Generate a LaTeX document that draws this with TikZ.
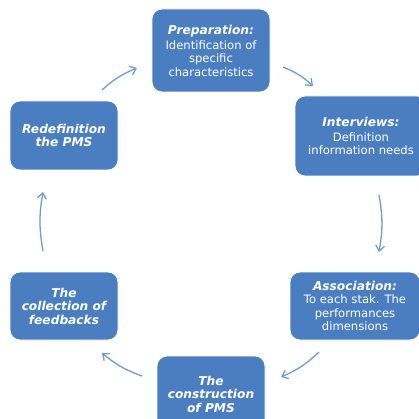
\documentclass[tikz,border=0pt]{standalone}
\usepackage{fontspec}
\setmainfont{DejaVu Sans}
\usetikzlibrary{arrows.meta}
\definecolor{boxblue}{HTML}{4A7EC1}
\definecolor{arrowblue}{HTML}{6A9BDB}
\tikzset{
  stagebox/.style={fill=boxblue, draw=white, line width=0.8pt, rounded corners=10pt,
    text=white, align=center, font=\fontsize{11.6}{13.5}\selectfont, inner sep=0pt},
  cyclearrow/.style={draw=arrowblue, line width=1.3pt,
    -{Straight Barb[length=5.5pt,width=9pt]}, bend left=10}
}
\newcommand{\stagetitle}[1]{{\fontsize{12.2}{14}\selectfont\bfseries\itshape #1}}
\begin{document}
\begin{tikzpicture}[x=1pt,y=-1pt]
  \useasboundingbox (0,0) rectangle (419,419);
  \clip (0,0) rectangle (419,419);
  % stage boxes
  \node[stagebox, minimum width=118pt, minimum height=83pt] (prep) at (211,50.5)
    {\stagetitle{Preparation:}\\[1.5pt]Identification of\\specific\\characteristics};
  \node[stagebox, minimum width=132pt, minimum height=80pt] (inter) at (361,136)
    {\stagetitle{Interviews:}\\[1.5pt]Definition\\information needs};
  \node[stagebox, minimum width=130pt, minimum height=68pt] (assoc) at (355,306)
    {\stagetitle{Association:}\\To each stak. The\\performances\\dimensions};
  \node[stagebox, minimum width=108pt, minimum height=76pt] (constr) at (211,394)
    {\stagetitle{The}\\\stagetitle{construction}\\\stagetitle{of PMS}};
  \node[stagebox, minimum width=108pt, minimum height=68pt] (coll) at (64,306)
    {\stagetitle{The}\\\stagetitle{collection of}\\\stagetitle{feedbacks}};
  \node[stagebox, minimum width=108pt, minimum height=69pt] (redef) at (64,135.5)
    {\stagetitle{Redefinition}\\\stagetitle{the PMS}};
  % arrow end points
  \coordinate (a1s) at (283,67);  \coordinate (a1e) at (313,86);
  \coordinate (a2s) at (379,195); \coordinate (a2e) at (379,252);
  \coordinate (a3s) at (319,352); \coordinate (a3e) at (281,377);
  \coordinate (a4s) at (142,376); \coordinate (a4e) at (102,353);
  \coordinate (a5s) at (43,251);  \coordinate (a5e) at (43,192);
  \coordinate (a6s) at (102,90);  \coordinate (a6e) at (137,68);
  % cycle arrows
  \draw[cyclearrow] (a1s) to (a1e);
  \draw[cyclearrow] (a2s) to (a2e);
  \draw[cyclearrow] (a3s) to (a3e);
  \draw[cyclearrow] (a4s) to (a4e);
  \draw[cyclearrow] (a5s) to (a5e);
  \draw[cyclearrow] (a6s) to (a6e);
\end{tikzpicture}
\end{document}
